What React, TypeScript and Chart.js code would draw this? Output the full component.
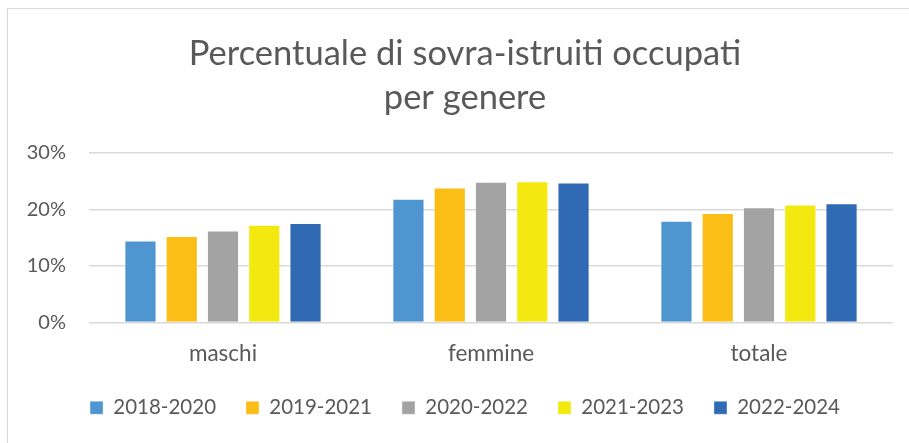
import React, { useEffect, useRef } from "react";
import { Chart, registerables } from "chart.js";

Chart.register(...registerables);

const categories = ["maschi", "femmine", "totale"];
const seriesLabels = ["2018-2020", "2019-2021", "2020-2022", "2021-2023", "2022-2024"];
const s2018_2020 = [0.145, 0.219, 0.180];
const s2019_2021 = [0.153, 0.239, 0.194];
const s2020_2022 = [0.163, 0.249, 0.204];
const s2021_2023 = [0.173, 0.250, 0.209];
const s2022_2024 = [0.176, 0.248, 0.211];
const seriesColors = ["#4F95D0", "#FBBE16", "#A3A3A3", "#F3E910", "#306AB4"];
const yTicks = [0, 0.1, 0.2, 0.3];
const titleLines = ["Percentuale di sovra-istruiti occupati", "per genere"];

const FONT = "Lato, 'Open Sans', sans-serif";
const TEXT = "#595959";

const unclipYLabels = {
  id: "unclipYLabels",
  afterLayout(chart: any) {
    const y = chart.scales.y;
    if (y) y.left = 0;
  },
};

export default function App() {
  const ref = useRef<HTMLCanvasElement>(null);
  useEffect(() => {
    if (!ref.current) return;
    const values = [s2018_2020, s2019_2021, s2020_2022, s2021_2023, s2022_2024];
    const chart = new Chart(ref.current, {
      type: "bar",
      data: {
        labels: categories,
        datasets: seriesLabels.map((l, i) => ({
          label: l,
          data: values[i],
          backgroundColor: seriesColors[i],
          borderColor: "rgba(255,255,255,0.35)",
          borderWidth: 1,
          categoryPercentage: 0.77,
          barPercentage: 0.78,
        })),
      },
      plugins: [unclipYLabels],
      options: {
        animation: false,
        responsive: false,
        maintainAspectRatio: false,
        layout: { padding: { left: 37, right: 16, top: 10, bottom: 24 } },
        plugins: {
          title: {
            display: true,
            text: titleLines,
            color: TEXT,
            font: { family: FONT, size: 34.5, weight: "normal", lineHeight: 44 / 34.5 },
            padding: { top: 22, bottom: 33 },
          },
          legend: {
            position: "bottom",
            labels: {
              color: TEXT,
              font: { family: FONT, size: 20.5 },
              boxWidth: 13,
              boxHeight: 13,
              padding: 30,
            },
          },
          tooltip: { enabled: false },
        },
        scales: {
          x: {
            grid: { display: false, drawTicks: false },
            border: { display: false },
            ticks: { color: TEXT, font: { family: FONT, size: 22.5 }, padding: 18 },
            afterFit: (s: any) => { s.height = 45; },
          },
          y: {
            min: 0,
            max: 0.3,
            afterBuildTicks: (s: any) => { s.ticks = yTicks.map((v) => ({ value: v })); },
            grid: { color: "#D9D9D9", lineWidth: 1.6, drawTicks: false },
            border: { display: false },
            ticks: {
              color: TEXT,
              font: { family: FONT, size: 20 },
              padding: 23,
              callback: (v: any) => Math.round(Number(v) * 100) + "%",
            },
            afterFit: (s: any) => { s.width = 52; },
          },
        },
      },
    });
    return () => chart.destroy();
  }, []);
  return (
    <div style={{ position: "fixed", left: 0, top: 0, width: 909, height: 443, overflow: "hidden", background: "#fff" }}>
      <div style={{ position: "absolute", left: 7, top: 8, width: 940, height: 470, borderLeft: "1.5px solid #D9D9D9", borderTop: "1.5px solid #D9D9D9" }} />
      <canvas ref={ref} width={909} height={452} style={{ position: "absolute", left: 0, top: 0 }} />
    </div>
  );
}
